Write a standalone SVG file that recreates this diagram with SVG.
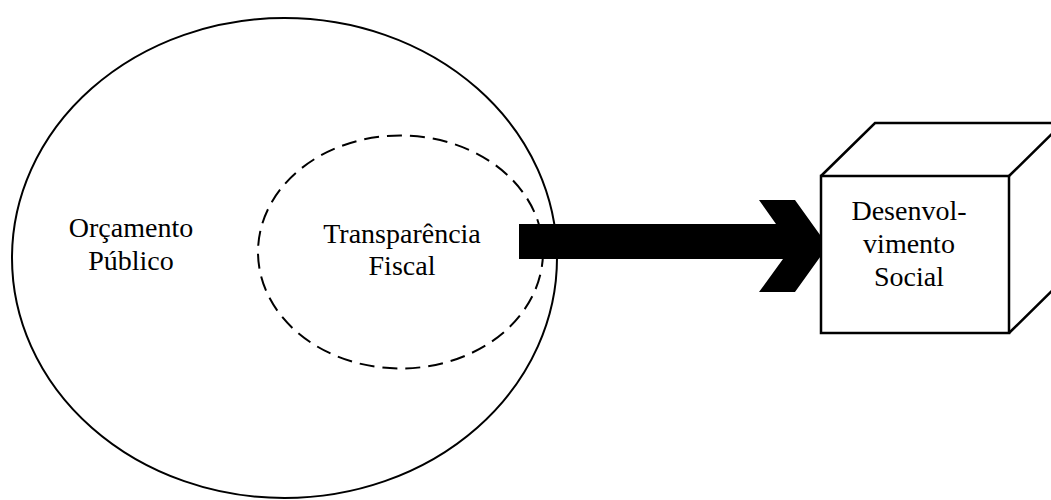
<svg xmlns="http://www.w3.org/2000/svg" width="1051" height="500" viewBox="0 0 1051 500">
<style>
.t{font-family:"Liberation Serif","Times New Roman",serif;font-size:28px;fill:#000;text-anchor:middle}
.ln{fill:none;stroke:#000;stroke-width:2}
</style>
<rect width="1051" height="500" fill="#fff"/>
<g id="orcamento">
<ellipse class="ln" cx="284.5" cy="258" rx="272.5" ry="240"/>
<text class="t" x="131" y="237">Orçamento</text>
<text class="t" x="131" y="270">Público</text>
</g>
<g id="transparencia">
<ellipse class="ln" cx="400.5" cy="252" rx="142.5" ry="116.5" stroke-dasharray="15,8"/>
<text class="t" x="402" y="243">Transparência</text>
<text class="t" x="402" y="275">Fiscal</text>
</g>
<g id="connectors">
<path d="M519,224 L776,224 L759,200 L795,200 L828,246 L795,292 L759,292 L783,259 L519,259 Z" fill="#000"/>
</g>
<g id="desenvolvimento">
<path d="M821,176 L875,123 L1063,123 L1063,280 L1009,333 M1009,176 L1063,123" fill="#fff" stroke="#000" stroke-width="2.5" stroke-linejoin="miter"/>
<rect x="821" y="176" width="188" height="157" fill="#fff" stroke="#000" stroke-width="2.5"/>
<text class="t" x="909" y="220">Desenvol-</text>
<text class="t" x="909" y="253">vimento</text>
<text class="t" x="909" y="286">Social</text>
</g>
</svg>
